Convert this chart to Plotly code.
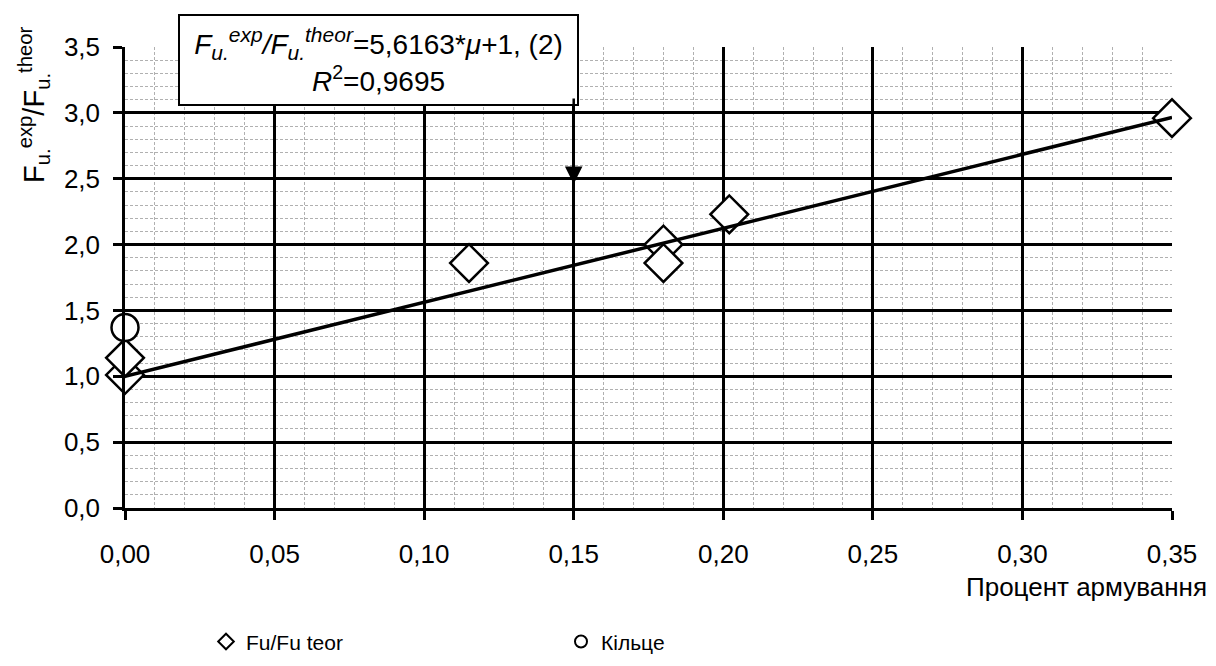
import plotly.graph_objects as go

# Data
fu_x = [0.0, 0.0, 0.115, 0.18, 0.18, 0.202, 0.35]
fu_y = [1.01, 1.14, 1.86, 2.0, 1.86, 2.23, 2.96]
ring_x = [0.0]
ring_y = [1.37]
trend_x = [0.0, 0.35]
trend_y = [1.0, 2.966]
x_ticks = [0.0, 0.05, 0.10, 0.15, 0.20, 0.25, 0.30, 0.35]
y_ticks = [0.0, 0.5, 1.0, 1.5, 2.0, 2.5, 3.0, 3.5]

W, H = 1216, 666
L, R, T, B = 117, 52, 39, 158
pw, ph = W - L - R, H - T - B

def px(xp):
    return (xp - L) / pw

def py(yp):
    return (H - B - yp) / ph

FONT = "Liberation Sans, Arial, sans-serif"

fig = go.Figure()
fig.add_trace(go.Scatter(
    x=fu_x, y=fu_y, mode="markers", name="Fu/Fu teor",
    marker=dict(symbol="diamond", size=29, color="white",
                line=dict(color="black", width=2.5)),
    cliponaxis=False,
))
fig.add_trace(go.Scatter(
    x=ring_x, y=ring_y, mode="markers", name="Кільце",
    marker=dict(symbol="circle", size=27, color="white",
                line=dict(color="black", width=2.5)),
    cliponaxis=False,
))
fig.add_trace(go.Scatter(
    x=trend_x, y=trend_y, mode="lines", showlegend=False,
    line=dict(color="black", width=3.5),
))

axis_common = dict(
    showline=True, linecolor="black", linewidth=2.5,
    ticks="outside", ticklen=9, tickwidth=2.5, tickcolor="black",
    showgrid=True, gridcolor="black", gridwidth=2.5,
    zeroline=False,
    tickfont=dict(family=FONT, size=26, color="black"),
)

fig.update_xaxes(
    range=[0, 0.35], tickvals=x_ticks, tickformat=".2f",
    ticklabelstandoff=12,
    minor=dict(dtick=0.01, showgrid=True, gridcolor="#b0b0b0",
               griddash="3px,2px", gridwidth=1, ticks=""),
    **axis_common,
)
fig.update_yaxes(
    range=[0, 3.5], tickvals=y_ticks, tickformat=".1f",
    ticklabelstandoff=8,
    minor=dict(dtick=0.1, showgrid=True, gridcolor="#b0b0b0",
               griddash="3px,2px", gridwidth=1, ticks=""),
    **axis_common,
)

SS = '<span style="font-size:21px">'
box_text = (
    f"<i>F<sub>{SS}u.</span></sub><sup>{SS}exp</span></sup>/"
    f"F<sub>{SS}u.</span></sub><sup>{SS}theor</span></sup></i>"
    "=5,6163*<i>μ</i>+1, (2)<br><i>R</i><sup>2</sup>=0,9695"
)

annotations = [
    dict(
        xref="paper", yref="paper", x=px(370), y=py(52),
        xanchor="center", yanchor="middle", showarrow=False,
        text=box_text,
        font=dict(family=FONT, size=28, color="black"),
        bgcolor="white", bordercolor="black", borderwidth=2, borderpad=2,
        width=393, height=84,
    ),
    dict(
        xref="x", yref="y", x=0.15, y=2.46, axref="x", ayref="y",
        ax=0.15, ay=3.12, text="", showarrow=True,
        arrowhead=2, arrowsize=1.4, arrowwidth=2.5, arrowcolor="black",
        standoff=0, startstandoff=0,
    ),
    dict(
        xref="paper", yref="paper", x=px(26), y=py(98),
        xanchor="center", yanchor="middle", showarrow=False, textangle=-90,
        text="F<sub>u.</sub><sup>exp</sup>/F<sub>u.</sub><sup>theor</sup>",
        font=dict(family=FONT, size=29, color="black"),
    ),
    dict(
        xref="paper", yref="paper", x=px(1201), y=py(588),
        xanchor="right", yanchor="middle", showarrow=False,
        text="Процент армування",
        font=dict(family=FONT, size=26, color="black"),
    ),
]

fig.update_layout(
    width=W, height=H,
    margin=dict(l=L, r=R, t=T, b=B),
    paper_bgcolor="white", plot_bgcolor="white",
    separators=", ",
    font=dict(family=FONT, size=20, color="black"),
    annotations=annotations,
    legend=dict(
        orientation="h", x=px(198), y=py(665), xanchor="left", yanchor="bottom",
        entrywidth=310, entrywidthmode="pixels",
        font=dict(family=FONT, size=21, color="black"),
        itemsizing="constant",
    ),
)

fig.write_html("out.html")
